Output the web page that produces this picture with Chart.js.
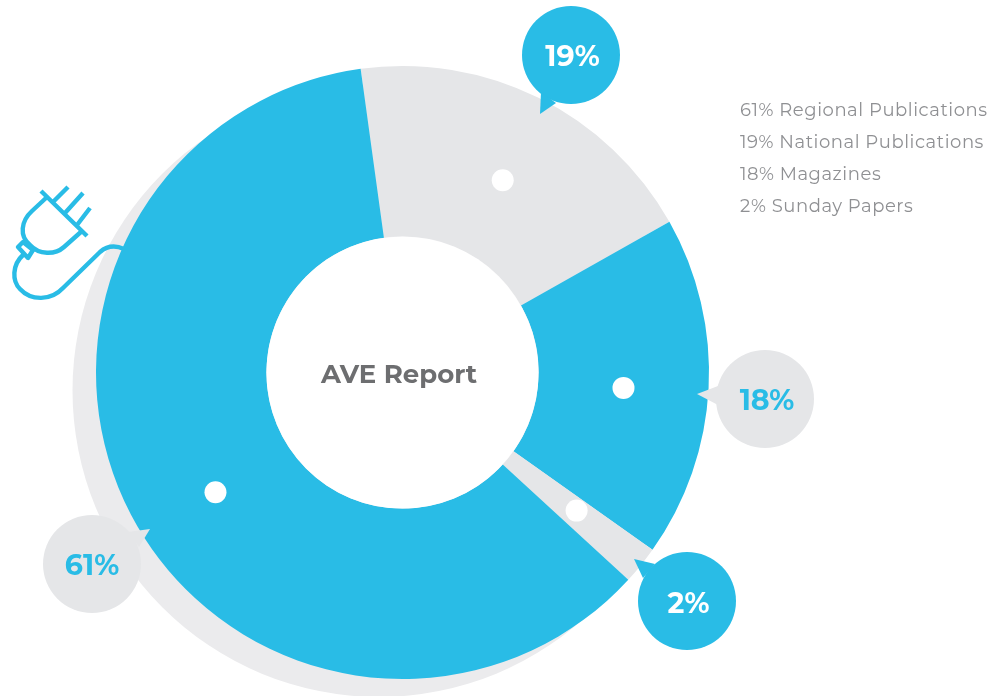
<!DOCTYPE html>
<html><head><meta charset="utf-8">
<style>html,body{margin:0;padding:0;background:#fff}canvas{display:block}</style>
<script src="https://cdn.jsdelivr.net/npm/chart.js@4"></script>
</head><body><canvas id="c" width="998" height="696"></canvas>
<script>
const categories = ["National Publications","Magazines","Sunday Papers","Regional Publications"];
const shares = [19,18,2,61];
const legendOrder = ["61% Regional Publications","19% National Publications","18% Magazines","2% Sunday Papers"];
const bubbleLabels = ["19%","18%","2%","61%"];
const centerTitle = "AVE Report";
const BLUE="#29bce6", GREY="#e5e6e8", SHADOW="#ebebed";
const sliceColors=[GREY,BLUE,GREY,BLUE];
const dotNudge=[[2,6],[0,4],[2,-1],[9,17]];
const bubbles=[
 {c:[571,55],fill:BLUE,text:"#fff",dx:1.5,dy:3,tail:[[540,114],[541,92],[556,103]]},
 {c:[765,399],fill:GREY,text:BLUE,dx:2,dy:3,tail:[[697,394],[718,386],[718,405]]},
 {c:[687,601],fill:BLUE,text:"#fff",dx:1.5,dy:4,tail:[[634,559],[655,564],[643,578]]},
 {c:[92,564],fill:GREY,text:BLUE,dx:0,dy:3,tail:[[150,529],[128,532],[139,547]]}
];
const FONT='Montserrat, Inter, sans-serif';
const art={
 id:'art',
 beforeDatasetsDraw(ch){
  const x=ch.ctx,m=ch.getDatasetMeta(0).data[0];
  x.save();
  x.fillStyle=SHADOW;x.beginPath();x.arc(m.x-23.5,m.y+18,m.outerRadius,0,Math.PI*2);x.fill();
  x.strokeStyle=BLUE;x.lineWidth=4.4;x.lineCap='butt';x.lineJoin='round';
  x.beginPath();
  x.moveTo(41,191);x.lineTo(87,236);
  x.moveTo(53,202);x.lineTo(68,187);
  x.moveTo(65,213);x.lineTo(83,193);
  x.moveTo(77,225);x.lineTo(90,208);
  x.moveTo(46,198);x.lineTo(32,211);x.bezierCurveTo(21,221,19,236,30,245);
  x.bezierCurveTo(39,255,55,255,64,247);x.lineTo(82,231);
  x.moveTo(23,242);x.lineTo(33,250);x.lineTo(28,258);x.lineTo(18,247);x.closePath();
  x.moveTo(23,255);x.bezierCurveTo(12,265,12,281,20,289);x.bezierCurveTo(31,301,51,301,63,288);
  x.lineTo(100,252);x.bezierCurveTo(107,246,115,245,124,249);
  x.stroke();
  x.restore();
 },
 afterDatasetsDraw(ch){
  const x=ch.ctx,arcs=ch.getDatasetMeta(0).data;
  x.save();
  x.fillStyle='#fff';
  x.beginPath();x.arc(arcs[0].x,arcs[0].y,arcs[0].innerRadius,0,Math.PI*2);x.fill();
  arcs.forEach((a,i)=>{const p=a.tooltipPosition();x.beginPath();x.arc(p.x+dotNudge[i][0],p.y+dotNudge[i][1],11,0,Math.PI*2);x.fill();});
  bubbles.forEach((b,i)=>{
   x.fillStyle=b.fill;
   x.beginPath();x.arc(b.c[0],b.c[1],49,0,Math.PI*2);x.fill();
   x.beginPath();x.moveTo(...b.tail[0]);x.lineTo(...b.tail[1]);x.lineTo(...b.tail[2]);x.closePath();x.fill();
   x.fillStyle=b.text;x.font='bold 28.5px '+FONT;x.textAlign='center';x.textBaseline='middle';
   x.fillText(bubbleLabels[i],b.c[0]+b.dx,b.c[1]+b.dy);
  });
  x.fillStyle='#6d6e70';x.font='bold 26px '+FONT;x.textAlign='center';x.textBaseline='middle';
  x.fillText(centerTitle,arcs[0].x-3.5,arcs[0].y+2.5);
  x.fillStyle='#8f9093';x.font='18px '+FONT;x.textAlign='left';
  if('letterSpacing' in x)x.letterSpacing='0.55px';
  legendOrder.forEach((t,i)=>x.fillText(t,740,111+32*i));
  x.restore();
 }
};
new Chart(document.getElementById('c'),{
 type:'doughnut',
 data:{labels:categories,datasets:[{data:shares,backgroundColor:sliceColors,borderWidth:0,hoverOffset:0}]},
 options:{responsive:false,animation:false,rotation:-7.85,cutout:'44.4%',
  layout:{padding:{left:96,right:289,top:66,bottom:17}},
  plugins:{legend:{display:false},tooltip:{enabled:false}}},
 plugins:[art]
});
</script></body></html>
